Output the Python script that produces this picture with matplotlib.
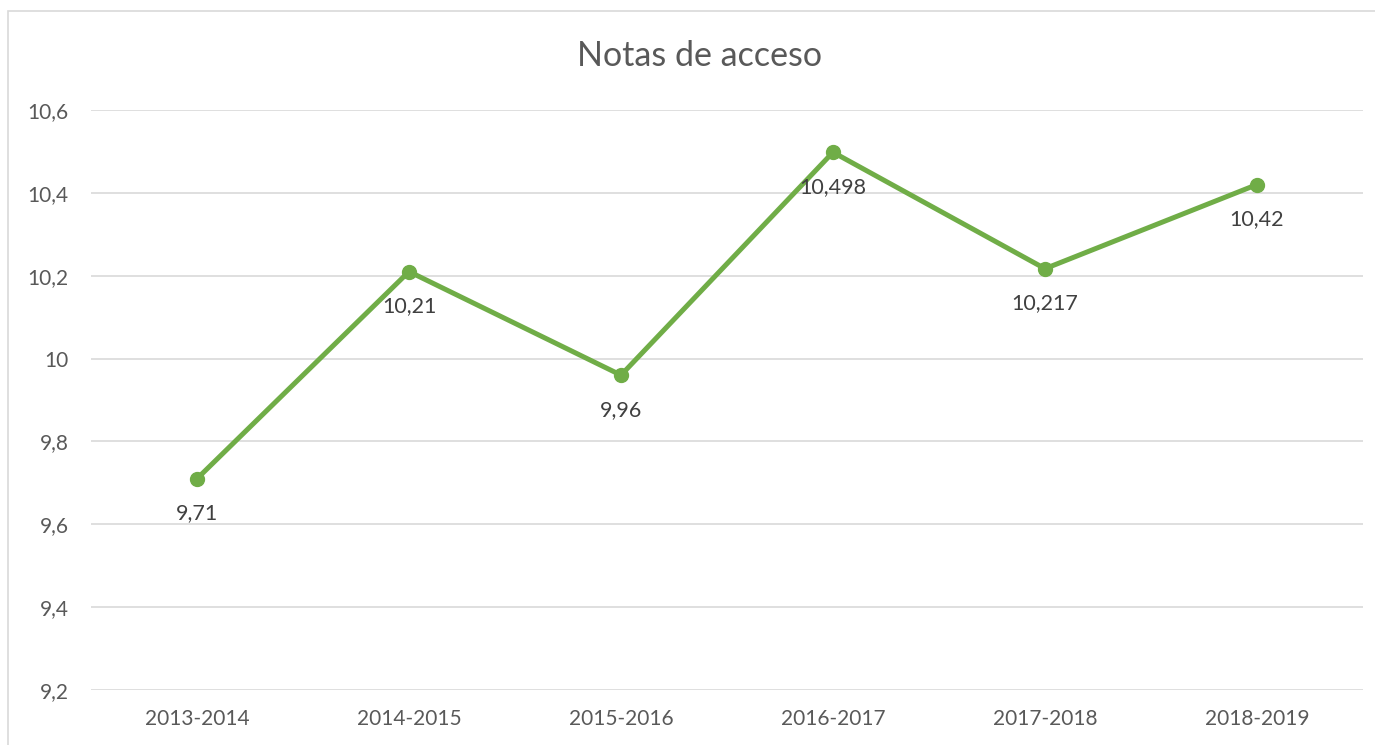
import matplotlib
matplotlib.use("Agg")
import matplotlib.pyplot as plt
from matplotlib.patches import Rectangle

categories = ["2013-2014", "2014-2015", "2015-2016", "2016-2017", "2017-2018", "2018-2019"]
values = [9.71, 10.21, 9.96, 10.498, 10.217, 10.42]
labels = ["9,71", "10,21", "9,96", "10,498", "10,217", "10,42"]
yticks = [9.2, 9.4, 9.6, 9.8, 10.0, 10.2, 10.4, 10.6]
ytick_labels = ["9,2", "9,4", "9,6", "9,8", "10", "10,2", "10,4", "10,6"]

plt.rcParams['font.family'] = ['Lato', 'DejaVu Sans']
W, H = 1375, 745
fig = plt.figure(figsize=(W / 100, H / 100), dpi=100)
fig.patches.append(Rectangle((8 / W, -0.1), 1.2, 1 - 11 / H + 0.1, transform=fig.transFigure,
                             fill=False, edgecolor='#D9D9D9', linewidth=1.2))
ax = fig.add_axes([91 / W, 55 / H, (1363 - 91) / W, (690 - 110) / H])

x = list(range(len(categories)))
ax.plot(x, values, color='#70AD47', linewidth=3.6, marker='o', markersize=10, zorder=3,
        solid_capstyle='round')
for xi, v, lab in zip(x, values, labels):
    ax.annotate(lab, (xi, v), xytext=(0, -25), textcoords='offset points', ha='center',
                va='center', fontsize=15.5, color='#404040', zorder=4)

ax.set_xlim(-0.5, len(categories) - 0.5)
ax.set_ylim(9.2, 10.6)
ax.set_yticks(yticks)
ax.set_yticklabels(ytick_labels)
ax.set_xticks(x)
ax.set_xticklabels(categories)
ax.tick_params(axis='both', length=0, labelsize=15, colors='#595959')
ax.tick_params(axis='y', pad=16)
ax.tick_params(axis='x', pad=14)
ax.grid(axis='y', color='#D9D9D9', linewidth=1.2)
ax.set_axisbelow(True)
for s in ax.spines.values():
    s.set_visible(False)
for lbl in ax.get_yticklabels():
    lbl.set_horizontalalignment('right')

fig.text(700 / W, 1 - 56 / H, "Notas de acceso", ha='center', va='center', fontsize=24.5, color='#595959')

fig.savefig("out.png", dpi=100)
